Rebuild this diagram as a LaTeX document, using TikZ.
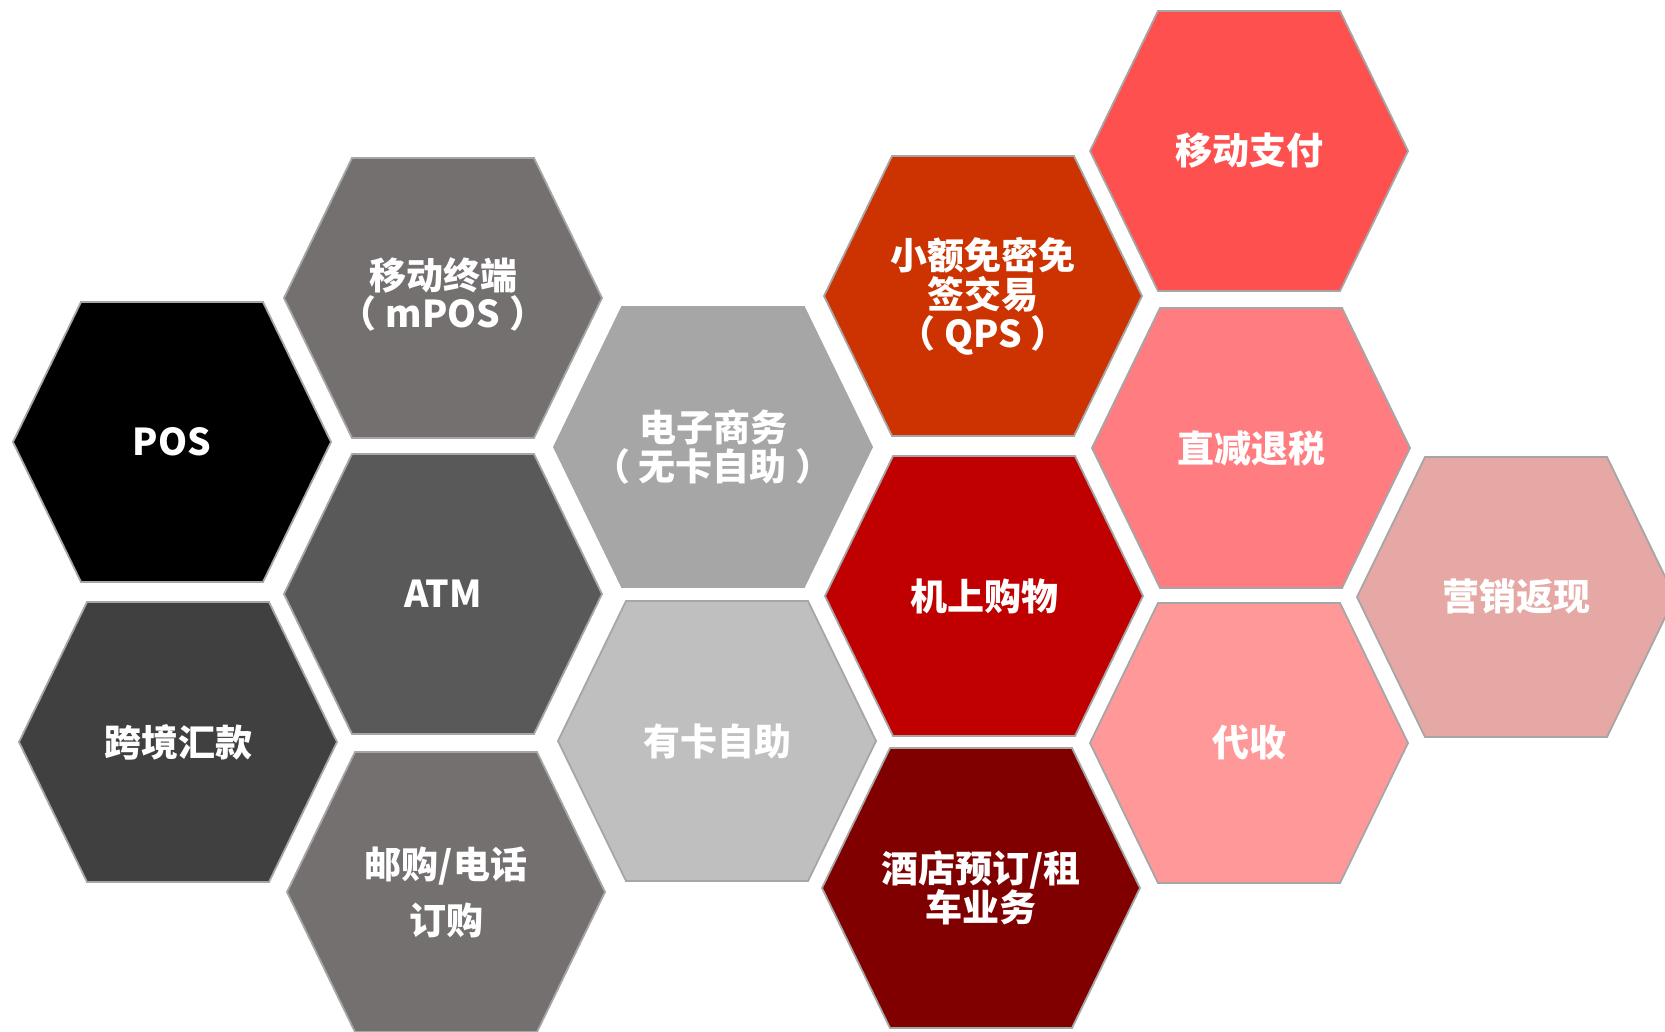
\documentclass[tikz,border=0pt]{standalone}
\usepackage{fontspec}
\newfontfamily\cjk{Noto Sans CJK SC}
\definecolor{hexline}{HTML}{A6A6A6}
\definecolor{cPOS}{HTML}{000000}
\definecolor{cMPOS}{HTML}{747070}
\definecolor{cATM}{HTML}{595959}
\definecolor{cKJ}{HTML}{404040}
\definecolor{cYG}{HTML}{747070}
\definecolor{cDZ}{HTML}{A6A6A6}
\definecolor{cYK}{HTML}{BFBFBF}
\definecolor{cQPS}{HTML}{CC3300}
\definecolor{cJS}{HTML}{C00000}
\definecolor{cJD}{HTML}{800000}
\definecolor{cYD}{HTML}{FF5050}
\definecolor{cZJ}{HTML}{FF7C80}
\definecolor{cDS}{HTML}{FF9999}
\definecolor{cYX}{HTML}{E5A8A4}
\tikzset{
  hexcell/.style={draw=hexline, line width=1.8pt, line join=miter},
  hextext/.style={text=white, align=center, inner sep=0pt,
    font=\cjk\bfseries\fontsize{37}{39}\selectfont}
}
\newcommand\ps{\hspace{9pt}}
\newcommand\hexcell[5]{%
  \path[hexcell, fill=#4] (#2,#3) ++(-159,0) -- ++(68,-140) -- ++(182,0)
     -- ++(68,140) -- ++(-68,140) -- ++(-182,0) -- cycle;
  \node[hextext] (#1) at (#2,#3) {#5};
}
\begin{document}
\begin{tikzpicture}[x=1pt,y=-1pt]
\useasboundingbox (0,0) rectangle (1665,1031);
\clip (0,0) rectangle (1665,1031);
\fill[white] (0,0) rectangle (1665,1031);
\hexcell{pos}{172}{442}{cPOS}{POS}
\hexcell{kj}{178}{742}{cKJ}{跨境汇款}
\hexcell{mpos}{443}{298}{cMPOS}{\raisebox{11pt}{\shortstack{移动终端\\（\ps mPOS\ps ）}}}
\hexcell{atm}{443}{594}{cATM}{ATM}
\hexcell{yg}{446}{892}{cYG}{邮购/电话\\[17pt]订购}
\hexcell{dz}{713}{447}{cDZ}{电子商务\\（\ps 无卡自助\ps ）}
\hexcell{yk}{717}{741}{cYK}{有卡自助}
\hexcell{qps}{983}{296}{cQPS}{小额免密免\\签交易\\（\ps QPS\ps ）}
\hexcell{js}{984}{596}{cJS}{机上购物}
\hexcell{jd}{981}{888}{cJD}{酒店预订/租\\车业务}
\hexcell{yd}{1249}{151}{cYD}{移动支付}
\hexcell{zj}{1251}{448}{cZJ}{直减退税}
\hexcell{ds}{1249}{743}{cDS}{代收}
\hexcell{yx}{1516}{597}{cYX}{营销返现}
\end{tikzpicture}
\end{document}
